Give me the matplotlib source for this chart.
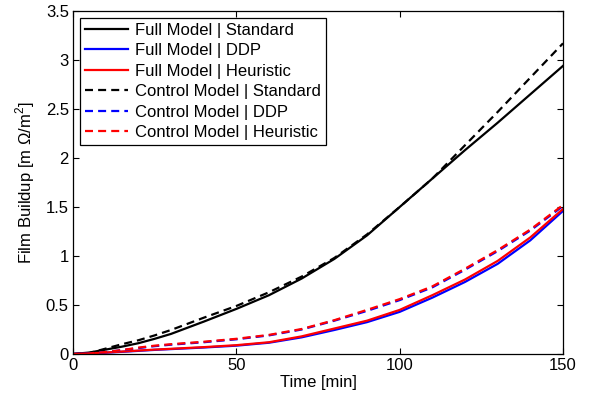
import numpy as np
import matplotlib
matplotlib.use('Agg')
import matplotlib.pyplot as plt
from matplotlib.ticker import FuncFormatter

# ---------------- datos ----------------
tiempo = [0, 5, 10, 15, 20, 25, 30, 40, 50, 60, 70, 80, 90, 100, 110, 120, 130, 140, 150]

full_std = [0, 0.015, 0.045, 0.075, 0.11, 0.155, 0.205, 0.33, 0.46, 0.6, 0.77, 0.97, 1.21, 1.5, 1.79, 2.08, 2.36, 2.65, 2.94]
full_ddp = [0, 0.005, 0.013, 0.022, 0.032, 0.042, 0.05, 0.066, 0.085, 0.115, 0.17, 0.245, 0.325, 0.43, 0.575, 0.735, 0.92, 1.16, 1.46]
full_heu = [0, 0.006, 0.015, 0.025, 0.035, 0.045, 0.053, 0.07, 0.09, 0.12, 0.18, 0.26, 0.34, 0.45, 0.6, 0.76, 0.95, 1.19, 1.48]
ctrl_std = [0, 0.01, 0.055, 0.1, 0.14, 0.19, 0.245, 0.37, 0.49, 0.63, 0.79, 0.98, 1.22, 1.5, 1.79, 2.13, 2.47, 2.82, 3.17]
ctrl_ddp = [0, 0.006, 0.02, 0.04, 0.06, 0.08, 0.095, 0.12, 0.15, 0.19, 0.25, 0.34, 0.44, 0.55, 0.68, 0.86, 1.05, 1.26, 1.51]
ctrl_heu = [0, 0.006, 0.02, 0.04, 0.065, 0.085, 0.1, 0.125, 0.155, 0.195, 0.255, 0.345, 0.45, 0.56, 0.69, 0.87, 1.06, 1.27, 1.52]

etiquetas = ['Full Model | Standard', 'Full Model | DDP', 'Full Model | Heuristic',
             'Control Model | Standard', 'Control Model | DDP', 'Control Model | Heuristic']

plt.rcParams['font.family'] = ['Liberation Sans', 'DejaVu Sans']
plt.rcParams['mathtext.fontset'] = 'custom'
plt.rcParams['mathtext.rm'] = 'Liberation Sans'

fig = plt.figure(figsize=(5.95, 3.98), dpi=100)
ax = fig.add_axes([73 / 595, 44 / 398, 490 / 595, 343 / 398])

lw = 1.6
dash = (0, (3.6, 2.3))
ax.plot(tiempo, full_std, color='k', lw=lw, label=etiquetas[0])
ax.plot(tiempo, full_ddp, color='b', lw=lw, label=etiquetas[1])
ax.plot(tiempo, full_heu, color='r', lw=lw, label=etiquetas[2])
ax.plot(tiempo, ctrl_std, color='k', lw=lw, ls=dash, label=etiquetas[3])
ax.plot(tiempo, ctrl_ddp, color='b', lw=lw, ls=dash, label=etiquetas[4])
ax.plot(tiempo, ctrl_heu, color='r', lw=lw, ls=dash, label=etiquetas[5])

ax.set_xlim(0, 150)
ax.set_ylim(0, 3.5)
ax.set_xticks([0, 50, 100, 150])
ax.set_yticks(np.arange(0, 3.51, 0.5))
ax.yaxis.set_major_formatter(FuncFormatter(lambda v, p: '%g' % v))
ax.tick_params(direction='in', top=True, right=True, labelsize=12, length=4, pad=3)
for s in ax.spines.values():
    s.set_linewidth(0.9)

ax.set_xlabel('Time [min]', fontsize=12, labelpad=1)
ax.set_ylabel('Film Buildup [m $\\Omega$/m$^2$]', fontsize=12, labelpad=6)

leg = ax.legend(loc='upper left', fontsize=12, frameon=True, fancybox=False,
                handlelength=2.6, borderpad=0.3, labelspacing=0.33,
                handletextpad=0.4, borderaxespad=0.4)
leg.get_frame().set_edgecolor('k')
leg.get_frame().set_linewidth(0.9)
leg.get_frame().set_alpha(1)

fig.savefig('out.png', dpi=100)
